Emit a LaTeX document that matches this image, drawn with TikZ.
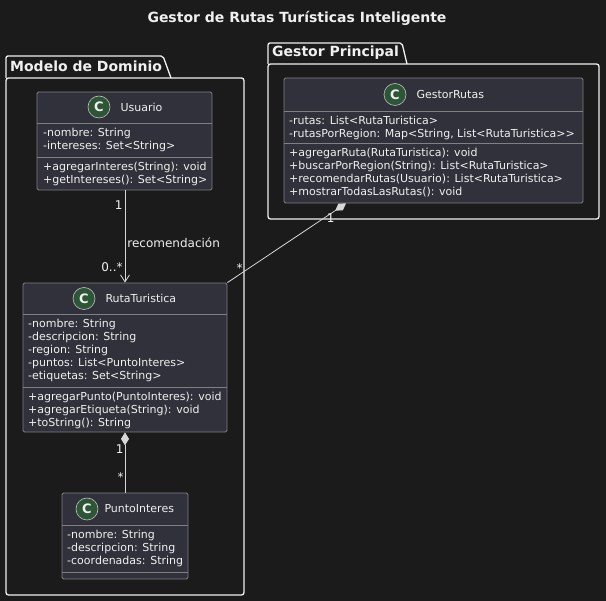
\documentclass[tikz,border=0pt]{standalone}
\usepackage{fontspec}
\setmainfont{DejaVu Sans}[Ligatures=TeXOff]
\usetikzlibrary{arrows.meta,positioning}
\definecolor{fondo}{RGB}{27,27,27}
\definecolor{caja}{RGB}{48,49,58}
\definecolor{borde}{RGB}{128,128,132}
\definecolor{blanco}{RGB}{240,240,240}
\definecolor{linea}{RGB}{215,215,215}
\definecolor{verde}{RGB}{44,86,54}

\begin{document}
\begin{tikzpicture}[x=1pt, y=-1pt, anchor=center,
	clase/.style={draw=borde, fill=caja, line width=0.8pt, rounded corners=1.5pt, inner sep=0},
	icono/.style={circle, draw=blanco!80!black, fill=verde, line width=0.6pt, minimum size=22pt, inner sep=0, text=blanco, font=\fontsize{13}{13}\selectfont\bfseries},
	nombre/.style={inner sep=0, text=blanco, font=\fontsize{11}{13}\selectfont},
	miembros/.style={anchor=north west, inner sep=0, align=left, text=blanco, font=\fontsize{11}{13}\selectfont},
	sep/.style={draw=borde, line width=0.8pt},
	paquete/.style={draw=blanco, line width=1.3pt},
	rotulo/.style={anchor=west, inner sep=0, text=blanco, font=\fontsize{14}{16}\selectfont\bfseries},
	mult/.style={inner sep=0, text=blanco, font=\fontsize{12}{14}\selectfont},
	asoc/.style={draw=linea, line width=0.8pt, -{Straight Barb[length=7pt,width=9pt]}},
	compo/.style={draw=linea, line width=0.8pt, {Diamond[length=13pt,width=8pt,fill=linea]}-}]

	\useasboundingbox (0,0) rectangle (606,601);
	\fill[fondo] (0,0) rectangle (606,601);

	\node[inner sep=0, text=blanco, font=\fontsize{14}{16}\selectfont\bfseries] (titulo) at (297,18) {Gestor de Rutas Turísticas Inteligente};

	% paquetes
	\draw[paquete, rounded corners=2pt] (6,78) -- (6,56) -- (163,56) -- (171,78);
	\draw[paquete, rounded corners=2.5pt] (6,78) rectangle (244,595);
	\node[rotulo] (modelo) at (10,66) {Modelo de Dominio};

	\draw[paquete, rounded corners=2pt] (268,64) -- (268,43) -- (402,43) -- (407,64);
	\draw[paquete, rounded corners=2.5pt] (268,64) rectangle (599,219);
	\node[rotulo] (principal) at (272,53) {Gestor Principal};

	% Usuario
	\node[clase, minimum width=175, minimum height=98] (usuario) at (124.5,141) {};
	\draw[sep] (usuario.west |- 0,123) -- (usuario.east |- 0,123);
	\draw[sep] (usuario.west |- 0,157) -- (usuario.east |- 0,157);
	\node[icono] (usuarioC) at (99,107) {C};
	\node[nombre, right=10pt of usuarioC] (usuarioN) {Usuario};
	\node[miembros] (usuarioA) at (43,127.6) {\strut-nombre: String\\-intereses: Set<String>};
	\node[miembros] (usuarioM) at (43,161.6) {\strut+agregarInteres(String): void\\+getIntereses(): Set<String>};

	% GestorRutas
	\node[clase, minimum width=299, minimum height=125] (gestor) at (433.5,140.5) {};
	\draw[sep] (gestor.west |- 0,111) -- (gestor.east |- 0,111);
	\draw[sep] (gestor.west |- 0,143) -- (gestor.east |- 0,143);
	\node[icono] (gestorC) at (395,94.5) {C};
	\node[nombre, right=10pt of gestorC] (gestorN) {GestorRutas};
	\node[miembros] (gestorA) at (289,115.6) {\strut-rutas: List<RutaTuristica>\\-rutasPorRegion: Map<String, List<RutaTuristica>>};
	\node[miembros] (gestorM) at (289,147.6) {\strut+agregarRuta(RutaTuristica): void\\+buscarPorRegion(String): List<RutaTuristica>\\+recomendarRutas(Usuario): List<RutaTuristica>\\+mostrarTodasLasRutas(): void};

	% RutaTuristica
	\node[clase, minimum width=204, minimum height=149] (ruta) at (125,357.5) {};
	\draw[sep] (ruta.west |- 0,314) -- (ruta.east |- 0,314);
	\draw[sep] (ruta.west |- 0,387) -- (ruta.east |- 0,387);
	\node[icono] (rutaC) at (84,298.5) {C};
	\node[nombre, right=10pt of rutaC] (rutaN) {RutaTuristica};
	\node[miembros] (rutaA) at (28,318.6) {\strut-nombre: String\\-descripcion: String\\-region: String\\-puntos: List<PuntoInteres>\\-etiquetas: Set<String>};
	\node[miembros] (rutaM) at (28,391.6) {\strut+agregarPunto(PuntoInteres): void\\+agregarEtiqueta(String): void\\+toString(): String};

	% PuntoInteres
	\node[clase, minimum width=126, minimum height=86] (punto) at (125,536) {};
	\draw[sep] (punto.west |- 0,525) -- (punto.east |- 0,525);
	\draw[sep] (punto.west |- 0,572) -- (punto.east |- 0,572);
	\node[icono] (puntoC) at (87,509) {C};
	\node[nombre, right=6pt of puntoC] (puntoN) {PuntoInteres};
	\node[miembros] (puntoA) at (67,529.6) {\strut-nombre: String\\-descripcion: String\\-coordenadas: String};

	% relaciones
	\draw[asoc] (usuario.south -| ruta.north) -- (ruta.north)
		node[mult, pos=0.16, anchor=east, xshift=-2pt] {1}
		node[mult, pos=0.57, anchor=west, xshift=2pt] {recomendación}
		node[mult, pos=0.83, anchor=east, xshift=-2pt] {0..*};

	\draw[compo] (ruta.south) -- (punto.north)
		node[mult, pos=0.27, anchor=east, xshift=-1pt] {1}
		node[mult, pos=0.74, anchor=east, xshift=-1pt] {*};

	\draw[compo] (gestor.south -| 346,0) -- (ruta.north east)
		node[mult, pos=0.13, anchor=north] {1}
		node[mult, pos=0.88, anchor=south, xshift=-2pt] {*};

\end{tikzpicture}
\end{document}
